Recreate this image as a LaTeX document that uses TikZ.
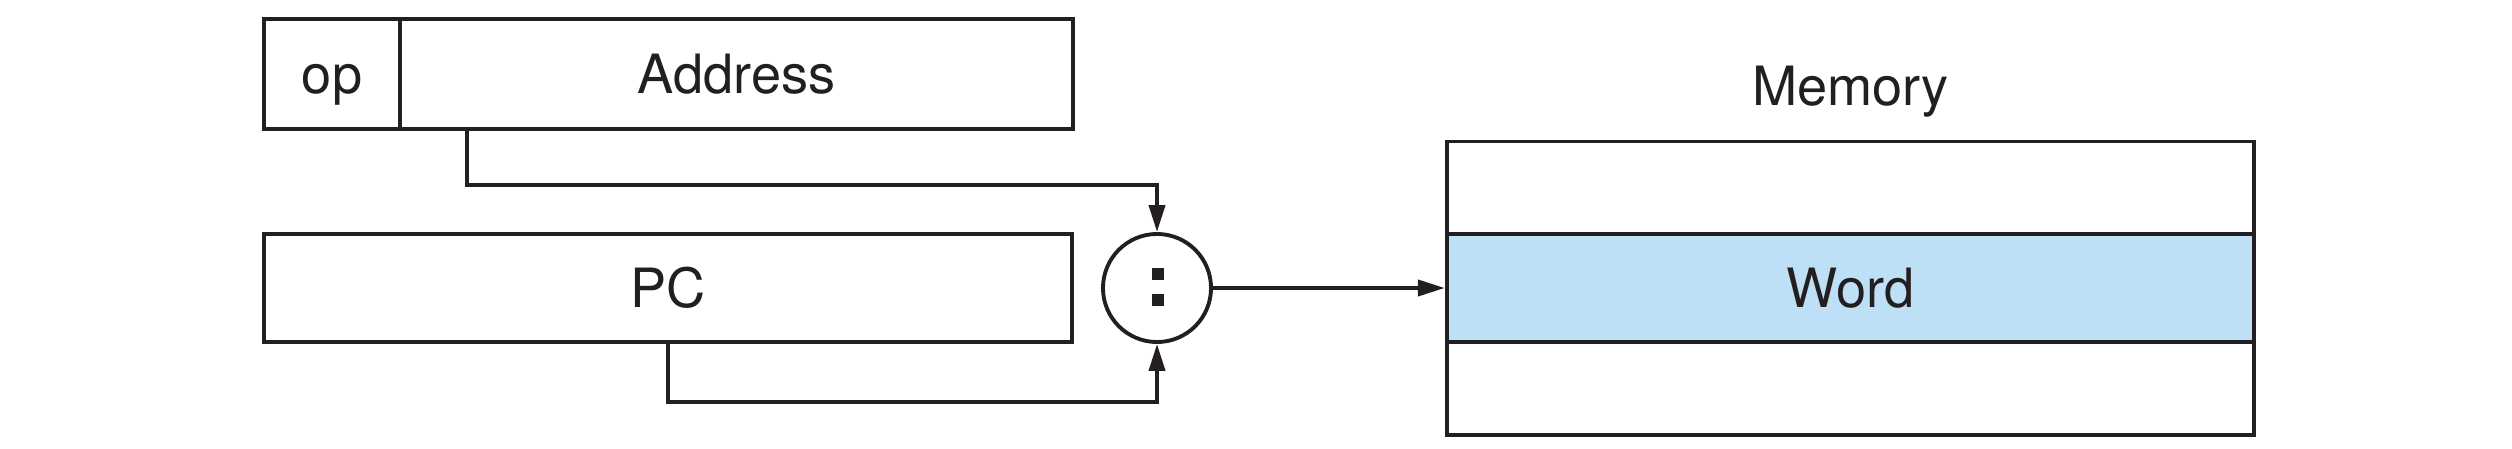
\documentclass[tikz,border=0pt]{standalone}
\usepackage{fontspec}
\setmainfont{TeX Gyre Heros}
\usetikzlibrary{arrows.meta}
\definecolor{wordblue}{RGB}{189,224,246}
\definecolor{tinta}{RGB}{35,31,32}
\tikzset{
  campo/.style={draw=tinta, line width=1.1pt, inner sep=0pt, text height=0.39cm, text depth=0cm,
    font=\fontsize{15.4}{18}\selectfont, text=tinta},
  rotulo/.style={inner sep=0pt, text height=0.39cm, text depth=0cm,
    font=\fontsize{15.4}{18}\selectfont, text=tinta},
  liga/.style={draw=tinta, line width=1.1pt, -{Triangle[length=0.27cm,width=0.16cm]}}
}
\begin{document}
\begin{tikzpicture}[x=0.01cm,y=-0.01cm]
        \useasboundingbox (0,0) rectangle (2512,448);
        % Instrucao e PC
        \node[campo, minimum width=1.36cm, minimum height=1.10cm] (op) at (332,74) {op};
        \node[campo, minimum width=6.73cm, minimum height=1.10cm] (addr) at (736.5,74) {Address};
        \node[campo, minimum width=8.08cm, minimum height=1.08cm] (pc) at (668,288) {PC};

        % Concatenacao
        \node[draw=tinta, line width=1.1pt, circle, minimum size=1.08cm, inner sep=0pt] (concat) at (1157,288) {};
        \fill[tinta] (1152,268) rectangle (1164,280);
        \fill[tinta] (1152,294) rectangle (1164,306);

        % Memoria
        \node[rotulo] (memlabel) at (1850.5,85.5) {Memory};
        \node[campo, minimum width=8.07cm, minimum height=0.93cm] (memtop) at (1850.5,188) {};
        \node[campo, minimum width=8.07cm, minimum height=0.93cm] (membot) at (1850.5,388.5) {};
        \node[campo, fill=wordblue, minimum width=8.07cm, minimum height=1.08cm] (word) at (1850.5,288) {Word};

        \draw[liga] ([xshift=0.69cm]addr.south west) -- ++(0,54) -| (concat.north);
        \draw[liga] (pc.south) -- ++(0,58) -| (concat.south);
        \draw[liga] (concat.east) -- (word.west);
    \end{tikzpicture}
\end{document}
